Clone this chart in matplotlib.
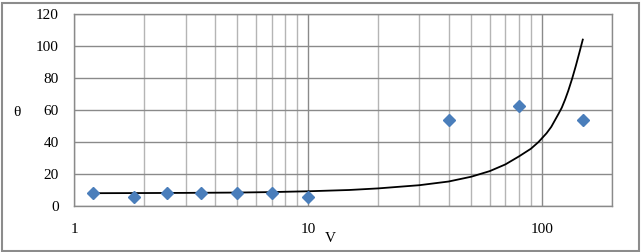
import matplotlib
matplotlib.use("Agg")
import matplotlib.pyplot as plt
from matplotlib.patches import Rectangle
from matplotlib.ticker import LogLocator, NullFormatter, FixedLocator, FixedFormatter

# measured points
v_pts = [1.2, 1.8, 2.5, 3.5, 5.0, 7.0, 10.0, 40.0, 80.0, 150.0]
theta_pts = [8.0, 5.5, 8.0, 8.0, 8.0, 8.0, 5.5, 54.0, 62.5, 54.0]

# curve
v_curve = [1.2, 2, 3, 5, 7, 10, 15, 20, 30, 40, 50, 60, 70, 80, 90, 97,
           105, 110, 118, 122, 126, 130, 135, 140, 145, 150]
theta_curve = [8.0, 8.1, 8.2, 8.4, 8.7, 9.2, 10.0, 11.0, 13.0, 15.3, 18.3, 21.8,
               26.0, 31.0, 35.8, 40.0, 45.5, 49.5, 57.5, 61.5, 66.5, 72.0,
               79.5, 87.5, 95.8, 104.0]

x_ticks = [1, 10, 100]
x_tick_labels = ["1", "10", "100"]
y_ticks = [0, 20, 40, 60, 80, 100, 120]

plt.rcParams['font.family'] = ['Liberation Serif', 'DejaVu Serif']

W, H = 642, 252
fig = plt.figure(figsize=(W / 100, H / 100), dpi=100)
fig.patches.append(Rectangle((2 / W, 1 / H), (W - 5) / W, (H - 4) / H,
                             transform=fig.transFigure, fill=False,
                             edgecolor='#8c8c8c', linewidth=1.5))

L, R, T, B = 74, 612, 14, 206
ax = fig.add_axes([L / W, (H - B) / H, (R - L) / W, (B - T) / H])
ax.set_xscale('log')
ax.set_xlim(1, 200)
ax.set_ylim(0, 120)

ax.xaxis.set_major_locator(FixedLocator(x_ticks))
ax.xaxis.set_major_formatter(FixedFormatter(x_tick_labels))
ax.xaxis.set_minor_locator(LogLocator(base=10, subs=range(2, 10)))
ax.xaxis.set_minor_formatter(NullFormatter())
ax.set_yticks(y_ticks)

ax.grid(True, which='major', axis='x', color='#8a8a8a', linewidth=1.0)
ax.grid(True, which='minor', axis='x', color='#b5b5b5', linewidth=1.0)
ax.grid(True, which='major', axis='y', color='#8a8a8a', linewidth=1.0)
ax.set_axisbelow(True)

for s in ax.spines.values():
    s.set_color('#8a8a8a')
    s.set_linewidth(1.0)

ax.tick_params(which='both', length=0, labelsize=11, colors='black')
ax.tick_params(axis='y', pad=11)
ax.tick_params(axis='x', pad=12)

ax.plot(v_curve, theta_curve, color='black', linewidth=1.3, zorder=3)
ax.plot(v_pts, theta_pts, linestyle='none', marker='D', markersize=6.5,
        color='#4a7ebb', zorder=4)

fig.text(17 / W, 1 - 112 / H, 'θ', fontsize=11, ha='center', va='center')
fig.text(330 / W, 1 - 239 / H, 'V', fontsize=11, ha='center', va='center')

fig.savefig('out.png', dpi=100)
